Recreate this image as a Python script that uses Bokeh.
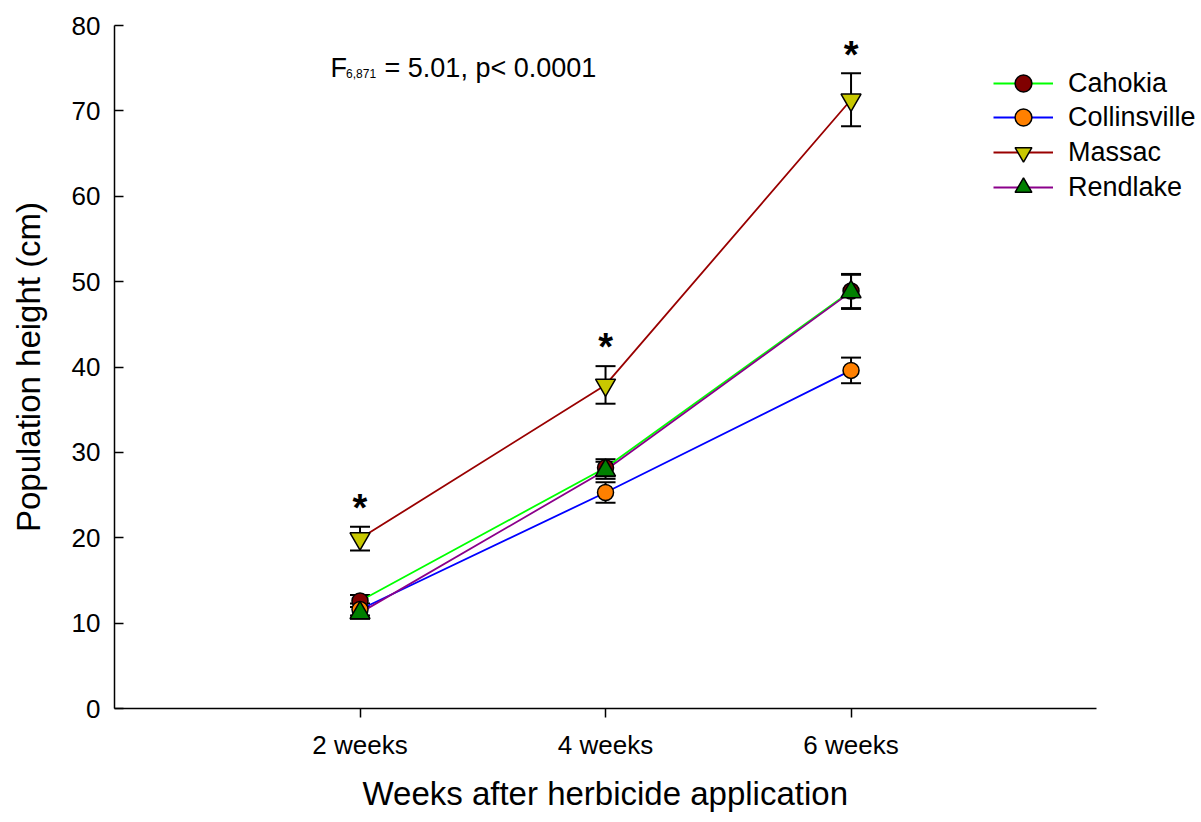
from bokeh.plotting import figure
from bokeh.models import (Range1d, FixedTicker, Whisker, ColumnDataSource,
                          Legend, LegendItem, Label, TeeHead, Title)
from bokeh.core.properties import value
from bokeh.embed import file_html
from bokeh.resources import INLINE

# ---- data ----
weeks = ["2 weeks", "4 weeks", "6 weeks"]
xpos = [1, 2, 3]
series = ["Cahokia", "Collinsville", "Massac", "Rendlake"]
cahokia = [12.6, 28.2, 48.9]
cahokia_se = [0.7, 1.0, 2.0]
collinsville = [11.6, 25.3, 39.6]
collinsville_se = [0.7, 1.2, 1.5]
massac = [19.9, 37.9, 71.3]
massac_se = [1.4, 2.2, 3.1]
rendlake = [11.2, 27.9, 48.8]
rendlake_se = [0.7, 1.0, 2.0]
significant = [True, True, True]  # Massac differs (asterisks)
yticks = [0, 10, 20, 30, 40, 50, 60, 70, 80]

FONT = "Liberation Sans"

p = figure(width=1201, height=822, output_backend="svg", toolbar_location=None,
           x_range=Range1d(0, 4.403), y_range=Range1d(0, 80),
           min_border_left=114, min_border_right=6, min_border_top=25, min_border_bottom=114)
p.outline_line_color = None
p.grid.visible = False
p.background_fill_color = "white"
p.border_fill_color = "white"

# axes
xa = p.xaxis[0]
xa.ticker = FixedTicker(ticks=xpos)
xa.major_label_overrides = {x: w for x, w in zip(xpos, weeks)}
xa.bounds = (0, 4)
xa.major_tick_in = 0
xa.major_tick_out = 9
xa.minor_tick_line_color = None
xa.major_label_standoff = 12

ya = p.yaxis[0]
ya.ticker = FixedTicker(ticks=yticks)
ya.major_tick_in = 9
ya.major_tick_out = 0
ya.minor_tick_line_color = None
ya.axis_label = "Population height (cm)"
ya.major_label_standoff = 14
ya.axis_label_standoff = 22

for ax in (xa, ya):
    ax.axis_line_color = "black"
    ax.axis_line_width = 1.5
    ax.major_tick_line_color = "black"
    ax.major_tick_line_width = 1.5
    ax.major_label_text_font = FONT
    ax.major_label_text_font_size = "26px"
    ax.major_label_text_color = "black"
    ax.axis_label_text_font = FONT
    ax.axis_label_text_font_size = "33px"
    ax.axis_label_text_font_style = "normal"
    ax.axis_label_text_color = "black"

# x-axis title, centred under the axis line (0..4) rather than the wider frame
p.add_layout(Title(text="Weeks after herbicide application", align="left", offset=248,
                   text_font=FONT, text_font_size="33px", text_font_style="normal",
                   text_color="black", standoff=21), "below")

specs = [
    ("Cahokia", cahokia, cahokia_se, "#00FF00", "#800000", "circle", 16),
    ("Collinsville", collinsville, collinsville_se, "#0000FF", "#FF8000", "circle", 16),
    ("Massac", massac, massac_se, "#990000", "#C8C800", "inverted_triangle", 20),
    ("Rendlake", rendlake, rendlake_se, "#8B008B", "#008000", "triangle", 20),
]

line_rs = {}
for name, ys, se, lc, fc, mk, sz in specs:
    line_rs[name] = p.line(xpos, ys, line_color=lc, line_width=1.8)

for name, ys, se, lc, fc, mk, sz in specs:
    src = ColumnDataSource(dict(x=xpos, lo=[a - b for a, b in zip(ys, se)],
                                hi=[a + b for a, b in zip(ys, se)]))
    w = Whisker(source=src, base="x", lower="lo", upper="hi", dimension="height",
                line_color="black", line_width=2,
                upper_head=TeeHead(size=20, line_color="black", line_width=2),
                lower_head=TeeHead(size=20, line_color="black", line_width=2))
    p.add_layout(w)

items = []
for name, ys, se, lc, fc, mk, sz in specs:
    sr = p.scatter(xpos, ys, marker=mk, size=sz, fill_color=fc, line_color="black", line_width=1.5)
    items.append(LegendItem(label=name, renderers=[line_rs[name], sr]))

# asterisks above Massac
star_x = [x for x, s in zip(xpos, significant) if s]
star_y = [m + e + 2.2 for m, e, s in zip(massac, massac_se, significant) if s]
p.text(star_x, star_y, text=["*"] * len(star_x), text_font=value(FONT), text_font_size="38px",
       text_font_style="bold", text_align="center", text_baseline="alphabetic", text_color="black")

# one legend box per entry, stacked at a 34.5 px pitch
for i, item in enumerate(items):
    lg = Legend(items=[item], location=(879, 708 - 104 - round(i * 34.5)), padding=0, margin=0,
                glyph_width=60, glyph_height=42, label_height=42, label_standoff=15,
                label_text_font=FONT, label_text_font_size="27px", label_text_baseline="middle",
                label_text_color="black",
                border_line_color=None, background_fill_alpha=0)
    p.add_layout(lg)

# statistic annotation
p.add_layout(Label(x=0.880, y=75.08, text="F", text_font=FONT, text_font_size="27px",
                   text_baseline="alphabetic", text_color="black"))
p.add_layout(Label(x=0.943, y=74.35, text="6,871", text_font=FONT, text_font_size="12px",
                   text_baseline="alphabetic", text_color="black"))
p.add_layout(Label(x=1.100, y=75.08, text="= 5.01, p< 0.0001", text_font=FONT, text_font_size="27px",
                   text_baseline="alphabetic", text_color="black"))

open("out.html", "w").write(file_html(p, INLINE))
